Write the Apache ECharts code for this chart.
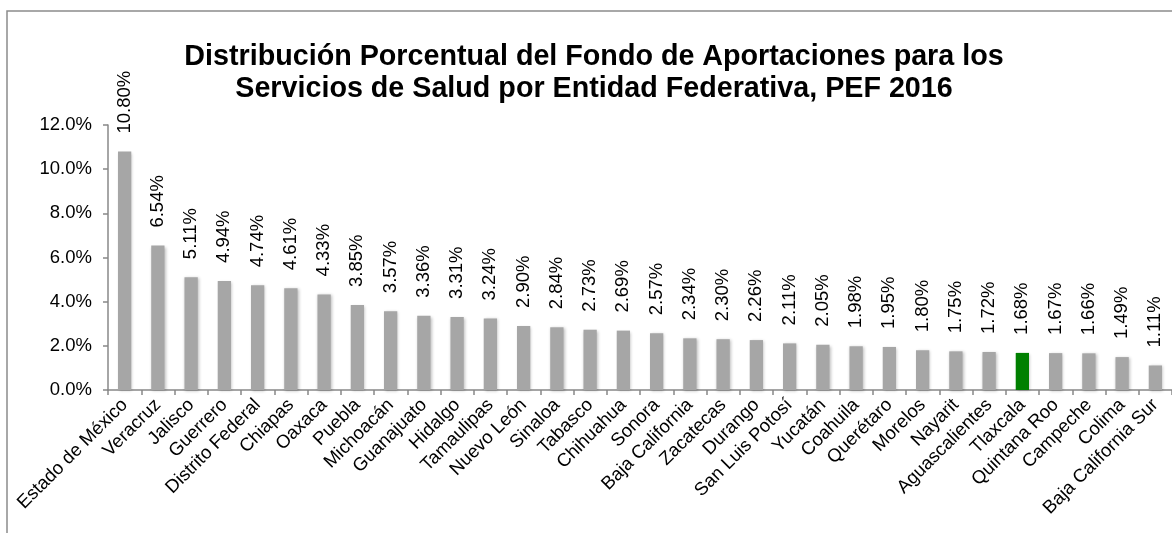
<!DOCTYPE html>
<html>
<head>
<meta charset="utf-8">
<script src="https://cdn.jsdelivr.net/npm/echarts@6/dist/echarts.min.js"></script>
<style>
html, body { margin: 0; padding: 0; background: #fff; }
#main { width: 1172px; height: 533px; }
</style>
</head>
<body>
<div id="main"></div>
<script>
// entidades federativas, ordenadas de mayor a menor
var entidades = ['Estado de México', 'Veracruz', 'Jalisco', 'Guerrero', 'Distrito Federal', 'Chiapas',
    'Oaxaca', 'Puebla', 'Michoacán', 'Guanajuato', 'Hidalgo', 'Tamaulipas', 'Nuevo León', 'Sinaloa',
    'Tabasco', 'Chihuahua', 'Sonora', 'Baja California', 'Zacatecas', 'Durango', 'San Luis Potosí',
    'Yucatán', 'Coahuila', 'Querétaro', 'Morelos', 'Nayarit', 'Aguascalientes', 'Tlaxcala',
    'Quintana Roo', 'Campeche', 'Colima', 'Baja California Sur'];

// porcentaje del FASSA
var porcentajes = [10.80, 6.54, 5.11, 4.94, 4.74, 4.61, 4.33, 3.85, 3.57, 3.36, 3.31, 3.24, 2.90, 2.84,
    2.73, 2.69, 2.57, 2.34, 2.30, 2.26, 2.11, 2.05, 1.98, 1.95, 1.80, 1.75, 1.72, 1.68, 1.67, 1.66,
    1.49, 1.11];

var resaltada = 'Tlaxcala';

var myChart = echarts.init(document.getElementById('main'));

var barras = [];
for (var i = 0; i < porcentajes.length; i++) {
    barras.push({
        value: porcentajes[i],
        itemStyle: { color: entidades[i] == resaltada ? '#008000' : '#a6a6a6' }
    });
}

var fuente = 'Arial, "Liberation Sans", sans-serif';

var option = {
    animation: false,
    title: {
        text: 'Distribución Porcentual del Fondo de Aportaciones para los\nServicios de Salud por Entidad Federativa, PEF 2016',
        left: 594,
        textAlign: 'center',
        top: 41,
        padding: 0,
        textStyle: {
            fontFamily: fuente,
            fontSize: 28.7,
            fontWeight: 'bold',
            color: '#000',
            lineHeight: 32
        }
    },
    graphic: [{
        type: 'rect',
        shape: { x: 7, y: 11, width: 1200, height: 600 },
        style: { fill: 'none', stroke: '#8c8c8c', lineWidth: 1.5 },
        silent: true
    }],
    grid: {
        left: 108,
        right: 0,
        top: 125,
        bottom: 143
    },
    xAxis: {
        type: 'category',
        data: entidades,
        axisLine: { lineStyle: { color: '#888', width: 1.5 } },
        axisTick: { show: true, length: 5, lineStyle: { color: '#888', width: 1.5 } },
        axisLabel: {
            interval: 0,
            rotate: 45,
            margin: 12,
            fontFamily: fuente,
            fontSize: 18.5,
            color: '#000'
        }
    },
    yAxis: {
        type: 'value',
        min: 0,
        max: 12,
        interval: 2,
        splitLine: { show: false },
        axisLine: { show: true, lineStyle: { color: '#888', width: 1.5 } },
        axisTick: { show: true, length: 5, lineStyle: { color: '#888', width: 1.5 } },
        axisLabel: {
            margin: 16,
            fontFamily: fuente,
            fontSize: 18.5,
            color: '#000',
            formatter: function (v) { return v.toFixed(1) + '%'; }
        }
    },
    series: [{
        type: 'bar',
        data: barras,
        barWidth: '40%',
        itemStyle: {
            shadowBlur: 3,
            shadowColor: 'rgba(0,0,0,0.25)',
            shadowOffsetX: 1,
            shadowOffsetY: 1
        },
        label: {
            show: true,
            position: 'top',
            rotate: 90,
            align: 'left',
            verticalAlign: 'middle',
            distance: 18,
            fontFamily: fuente,
            fontSize: 18.5,
            color: '#000',
            formatter: function (p) { return p.value.toFixed(2) + '%'; }
        }
    }]
};

myChart.setOption(option);
</script>
</body>
</html>
